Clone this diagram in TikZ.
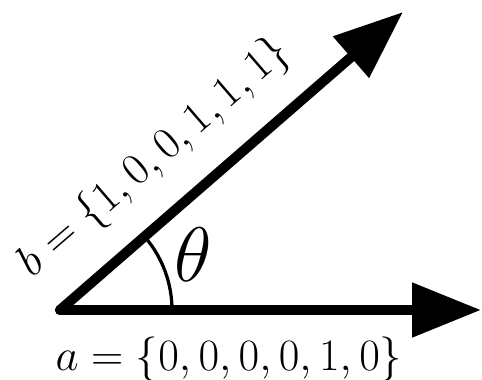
\RequirePackage{fix-cm}
\documentclass[tikz,border=0pt]{standalone}
\usetikzlibrary{arrows.meta}
\begin{document}
\begin{tikzpicture}[
  x=0.02cm, y=0.02cm,
  vec/.style={line width=0.2cm, line cap=round, -{Triangle[length=1.38cm, width=1.05cm]}},
  lbl/.style={inner sep=0pt, font=\fontsize{25.5}{30}\selectfont}
]
  \useasboundingbox (0,0) rectangle (482,379);
  \coordinate (O)    at (60, 69);
  \coordinate (atip) at (481, 69);
  \coordinate (btip) at (403, 367);

  \draw[vec] (O) -- (atip);
  \draw[vec] (O) -- (btip);
  \draw[line width=0.065cm] (172, 69) arc[start angle=0, end angle=40.8, radius=112];

  \node[inner sep=0pt, font=\fontsize{44}{50}\selectfont] (theta) at (193, 124) {$\theta$};
  \node[lbl] (alabel) at (229, 20) {$a = \{0,0,0,0,1,0\}$};
  \node[lbl, rotate=40.8] (blabel) at (155, 221) {$b = \{1,0,0,1,1,1\}$};
\end{tikzpicture}
\end{document}
